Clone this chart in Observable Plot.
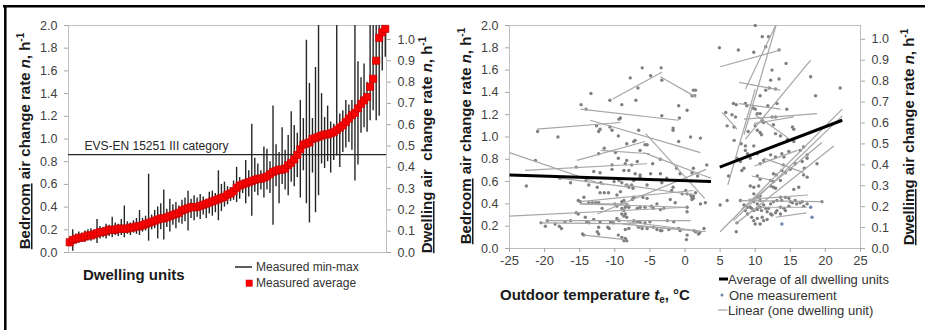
<!DOCTYPE html>
<html><head><meta charset="utf-8">
<script src="https://cdn.jsdelivr.net/npm/d3@7"></script>
<script src="https://cdn.jsdelivr.net/npm/@observablehq/plot@0.6"></script>
<style>
body{margin:0;background:#fff;}
#wrap{position:relative;width:925px;height:330px;overflow:hidden;background:#fff;font-family:"Liberation Sans",Arial,sans-serif;}
#left,#right,#over{position:absolute;top:0;}
#left{left:0;width:460px;height:262px}
#right{left:460px;width:465px;height:275px}
#over{left:0;pointer-events:none}
</style></head><body>
<div id="wrap"><div id="left"></div><div id="right"></div><svg id="over" width="925" height="330"></svg></div>
<script>
// ---------- Left panel: dwelling units sorted by average ----------
const unitAvg = [0.09,0.11,0.12,0.13,0.13,0.14,0.15,0.15,0.16,0.17,
0.18,0.18,0.19,0.20,0.20,0.20,0.21,0.21,0.21,0.21,
0.22,0.22,0.23,0.23,0.24,0.25,0.26,0.27,0.28,0.29,
0.30,0.30,0.31,0.32,0.33,0.34,0.35,0.37,0.38,0.39,
0.40,0.40,0.40,0.41,0.42,0.43,0.44,0.45,0.46,0.47,
0.48,0.49,0.51,0.52,0.54,0.57,0.59,0.60,0.61,0.62,
0.63,0.64,0.65,0.65,0.66,0.67,0.69,0.71,0.72,0.73,
0.73,0.74,0.77,0.79,0.82,0.86,0.91,0.95,0.96,0.97,
1.00,1.01,1.02,1.03,1.04,1.04,1.05,1.06,1.08,1.10,
1.12,1.15,1.18,1.21,1.23,1.27,1.31,1.34,1.37,1.46,
1.53,1.69,1.89,1.94,1.97];
const unitMin = [0.05,0.01,0.08,0.09,0.10,0.09,0.11,0.10,0.12,0.08,
0.12,0.13,0.12,0.14,0.13,0.15,0.14,0.15,0.13,0.16,
0.15,0.17,0.16,0.15,0.18,0.19,0.10,0.20,0.21,0.12,
0.20,0.11,0.22,0.18,0.24,0.21,0.26,0.25,0.27,0.19,
0.30,0.28,0.31,0.29,0.33,0.30,0.34,0.32,0.35,0.28,
0.36,0.40,0.42,0.45,0.46,0.44,0.47,0.52,0.43,0.49,
0.32,0.53,0.50,0.55,0.48,0.55,0.52,0.24,0.58,0.43,
0.60,0.55,0.50,0.62,0.58,0.66,0.48,0.72,0.43,0.26,
0.70,0.35,0.50,0.78,0.74,0.80,0.70,0.81,0.85,0.75,
0.88,0.92,0.97,0.90,0.63,0.77,1.05,1.10,1.06,1.16,
1.25,1.16,1.20,1.60,1.72];
const unitMax = [0.13,0.20,0.16,0.18,0.17,0.19,0.20,0.21,0.19,0.29,
0.23,0.22,0.25,0.24,0.31,0.26,0.25,0.29,0.41,0.27,
0.26,0.28,0.30,0.37,0.30,0.32,0.69,0.33,0.37,0.40,
0.43,0.55,0.38,0.47,0.42,0.44,0.41,0.46,0.48,0.54,
0.47,0.50,0.48,0.51,0.49,0.46,0.53,0.54,0.52,0.72,
0.60,0.62,0.58,0.57,0.63,0.75,0.66,0.63,0.81,0.72,
1.13,0.83,0.78,0.72,0.93,0.91,0.80,1.29,0.95,0.88,
1.10,0.90,1.03,1.24,1.12,1.05,1.34,1.18,1.87,1.49,
1.18,1.63,2.30,1.40,1.19,1.29,1.15,1.13,2.30,1.22,
1.25,1.34,1.30,1.34,2.30,1.68,1.54,1.66,1.50,2.30,
2.30,2.30,2.30,2.30,2.30];
const categoryLimit = [0.863];
const categoryLabel = "EVS-EN 15251 III category";

// axis ticks
const leftTicks = [0,0.2,0.4,0.6,0.8,1.0,1.2,1.4,1.6,1.8,2.0];
const rightTicks = [0,0.1,0.2,0.3,0.4,0.5,0.6,0.7,0.8,0.9,1.0];
const tempTicks = [-25,-20,-15,-10,-5,0,5,10,15,20,25];
const SEC = 2 / 1.066; // bedroom-axis units per dwelling-axis unit

// ---------- Right panel: rate vs outdoor temperature ----------
const heatingPoints = [
[-6.1,1.62],[-3.4,1.62],[-4.9,1.55],[-7.8,1.53],[-3.3,1.51],[-6.7,1.44],[-13.4,1.39],[1.2,1.42],[1.5,1.42],[1.0,1.37],[1.4,1.37],[-7.0,1.33],[-10.7,1.33],[-14.8,1.29],[-9.0,1.29],[-0.9,1.28],[-14.1,1.25],[0.3,1.24],[-3.3,1.19],[-9.2,1.17],[-9.4,1.16],[-0.8,1.17],[-12.6,1.10],[-12.1,1.07],[-12.3,1.05],[-10.7,1.09],[-10.4,1.06],[-1.7,1.08],[-1.7,1.06],[-21.0,1.05],[-18.1,1.00],[-9.5,1.01],[-6.6,1.06],[0.8,1.00],[2.2,0.99],[-0.9,0.96],[-7.3,0.96],[-7.1,0.97],[-8.3,0.94],[-5.7,0.93],[-5.4,0.93],[-11.5,0.90],[-12.3,0.85],[-9.9,0.86],[-6.4,0.88],[-9.5,0.81],[-8.3,0.79],[-8.5,0.76],[-7.6,0.75],[-10.4,0.75],[-6.8,0.78],[-4.6,0.76],[-3.5,0.80],[-1.2,0.72],[1.2,0.72],[3.1,0.75],[-15.5,0.73],[-13.0,0.69],[-12.1,0.68],[-10.4,0.71],[-8.7,0.70],[-8.0,0.70],[-7.1,0.67],[-6.4,0.66],[-4.9,0.67],[-3.5,0.67],[-0.7,0.67],[1.0,0.68],[1.8,0.65],[-21.3,0.79],[-22.6,0.56],[-16.3,0.59],[-17.8,0.63],[-14.1,0.61],[-13.7,0.57],[-12.5,0.55],[-12.0,0.59],[-10.1,0.60],[-9.4,0.61],[-9.0,0.59],[-8.3,0.57],[-8.0,0.55],[-7.6,0.57],[-7.4,0.54],[-7.3,0.61],[-6.4,0.64],[-5.4,0.57],[-3.3,0.59],[-2.6,0.63],[-1.9,0.52],[-1.7,0.55],[-0.4,0.49],[0.1,0.52],[0.3,0.49],[0.8,0.48],[1.0,0.46],[1.2,0.47],[1.5,0.50],[2.9,0.41],[3.4,0.60],[-15.2,0.43],[-14.9,0.42],[-14.4,0.46],[-13.7,0.41],[-13.2,0.41],[-12.7,0.41],[-12.3,0.41],[-11.8,0.36],[-12.1,0.50],[-11.5,0.50],[-10.9,0.50],[-9.7,0.48],[-9.2,0.51],[-10.0,0.40],[-9.7,0.38],[-9.0,0.42],[-8.7,0.43],[-8.5,0.37],[-8.3,0.39],[-8.0,0.37],[-9.0,0.36],[-8.7,0.34],[-8.5,0.31],[-9.0,0.31],[-8.7,0.29],[-8.3,0.28],[-9.7,0.27],[-9.4,0.25],[-10.6,0.24],[-10.2,0.23],[-11.0,0.19],[-10.8,0.18],[-12.1,0.24],[-12.3,0.19],[-13.0,0.26],[-14.0,0.24],[-13.7,0.23],[-14.2,0.28],[-14.6,0.13],[-14.4,0.12],[-6.8,0.36],[-6.4,0.37],[-5.7,0.37],[-4.8,0.38],[-4.5,0.36],[-7.5,0.44],[-7.3,0.46],[-6.0,0.46],[-5.4,0.45],[-7.3,0.25],[-6.8,0.24],[-6.4,0.24],[-5.7,0.23],[-5.0,0.24],[-6.6,0.19],[-6.1,0.18],[-5.4,0.18],[-4.5,0.19],[-4.0,0.17],[-3.5,0.16],[-3.3,0.16],[-2.3,0.17],[-8.0,0.18],[-8.5,0.17],[-9.5,0.12],[-9.0,0.10],[-8.5,0.09],[-8.3,0.07],[-8.7,0.07],[-17.6,0.18],[-17.9,0.20],[-19.9,0.20],[-19.6,0.25],[-20.5,0.23],[-17.1,0.24],[-18.5,0.22],[-16.3,0.25],[-12.3,0.13],[-12.5,0.15],[-0.9,0.18],[-0.7,0.16],[0.3,0.12],[1.3,0.16],[1.5,0.15],[1.9,0.13],[2.1,0.14],[2.7,0.18],[0.3,0.33],[0.3,0.37],[1.0,0.44],[1.2,0.45],[2.2,0.40],[-3.5,0.35],[-3.0,0.36],[-2.1,0.44],[-1.4,0.41],[-4.0,0.40],[-1.6,0.24],[-2.5,0.25],[0.2,0.08],[-15.5,0.32],[-15.2,0.31]
];
const coolingPoints = [
[4.9,1.80],[7.6,1.78],[9.8,1.76],[10.0,2.00],[11.0,1.90],[11.9,1.90],[11.5,1.81],[13.4,1.78],[14.4,1.66],[12.4,1.60],[17.9,1.54],[12.2,1.51],[13.4,1.52],[11.5,1.42],[12.9,1.43],[22.1,1.44],[18.6,1.37],[10.7,1.37],[6.9,1.30],[7.3,1.29],[8.6,1.30],[8.8,1.28],[9.7,1.26],[10.0,1.25],[5.8,1.22],[6.7,1.20],[10.3,1.21],[10.7,1.21],[12.4,1.18],[12.9,1.18],[14.5,1.25],[6.0,1.10],[7.0,1.09],[7.2,1.18],[11.0,1.15],[11.2,1.13],[10.0,1.10],[10.3,1.06],[12.6,1.11],[15.3,1.09],[15.5,1.07],[12.9,1.03],[13.6,1.01],[10.7,1.04],[10.9,1.02],[7.0,0.97],[8.0,0.94],[8.6,0.92],[9.8,0.92],[16.9,0.91],[15.5,0.96],[8.6,0.88],[8.9,0.85],[10.3,0.85],[7.4,0.81],[7.9,0.78],[9.3,0.81],[10.7,0.76],[11.2,0.79],[12.2,0.84],[12.9,0.82],[13.8,0.85],[14.1,0.82],[14.8,0.87],[16.4,0.88],[17.4,0.84],[17.4,0.81],[15.7,0.76],[16.7,0.78],[18.8,0.76],[13.8,0.70],[14.3,0.68],[15.0,0.71],[12.6,0.67],[13.0,0.66],[13.6,0.61],[16.9,0.66],[17.4,0.64],[8.4,0.72],[8.1,0.70],[6.2,0.65],[12.2,0.61],[12.6,0.60],[10.3,0.65],[10.7,0.62],[9.3,0.56],[9.8,0.55],[10.5,0.56],[12.2,0.56],[12.6,0.55],[12.9,0.54],[5.0,0.39],[6.0,0.43],[7.9,0.43],[8.4,0.39],[8.9,0.37],[9.8,0.49],[10.3,0.46],[10.7,0.47],[9.8,0.42],[10.3,0.40],[10.7,0.43],[11.2,0.39],[9.3,0.37],[9.5,0.36],[9.8,0.34],[10.3,0.35],[8.6,0.34],[8.9,0.31],[10.7,0.37],[10.9,0.34],[11.5,0.36],[11.7,0.33],[11.9,0.36],[12.2,0.40],[12.6,0.42],[13.1,0.43],[13.6,0.46],[13.8,0.43],[14.3,0.46],[14.8,0.45],[15.0,0.42],[15.3,0.41],[15.7,0.43],[15.9,0.40],[16.4,0.41],[16.7,0.42],[16.9,0.38],[17.4,0.40],[13.6,0.37],[14.1,0.36],[14.3,0.34],[14.8,0.38],[12.2,0.31],[12.4,0.30],[12.9,0.32],[13.1,0.34],[13.6,0.31],[9.5,0.28],[9.8,0.25],[10.3,0.27],[11.0,0.28],[11.2,0.25],[11.7,0.26],[10.0,0.22],[10.7,0.22],[7.4,0.23],[7.3,0.15],[19.5,0.42],[15.5,0.53],[16.2,0.55],[14.0,0.75],[17.0,0.72],[11.8,1.28],[12.0,1.44],[13.1,1.30],[9.0,1.05],[14.6,0.98]
];
const bluePoints = [[13.8,0.22],[17.9,0.37],[18.1,0.28]];
// linear fit per dwelling unit: [t1, n1, t2, n2]
const unitLines = [
[-10.3,1.34,-3.3,1.58],[-3.5,1.54,1.5,1.36],[-21.1,1.07,-9.2,1.13],[-14.9,1.25,-0.9,1.15],
[-13.5,1.15,2.2,0.86],[-15.4,0.79,-5.7,0.96],[-22.8,0.70,-5.4,0.76],[-25,0.86,-11.5,0.57],
[-25,0.29,0.3,0.37],[-19.9,0.25,0.8,0.25],[-20.5,0.23,-7,0.22],[-9,0.22,2.5,0.15],
[-14.4,0.12,-8.5,0.08],[-8.3,0.24,3.0,0.15],[-14.9,0.42,1.2,0.52],[-12.5,0.31,3.0,0.71],
[-5.6,1.03,2.8,0.45],[-5.9,0.86,3.7,0.63],[-12,0.88,-5,0.85],[-15,0.40,-8,0.40],
[-18.9,0.64,-8.0,0.55],[-8.7,0.57,1.3,0.48],[-14.9,0.40,0,0.37],[-7,0.20,0,0.17],
[5.0,1.63,13.6,1.78],[7.7,1.49,13.6,1.42],[8.6,1.43,12.9,2.0],[6.1,0.57,10.0,1.43],
[8.4,1.02,13.2,2.05],[8.6,0.98,17.9,1.69],[8.4,1.16,18.8,1.21],[9.8,1.12,15.5,1.18],
[7.7,1.30,13.6,1.25],[5.3,1.22,7.4,1.07],[5.0,0.15,22.4,1.25],[6.9,0.25,22.4,1.19],
[7.2,0.22,21.2,0.92],[8,0.35,19.5,0.95],[9.9,0.74,16.0,0.88],[7.9,0.43,19.5,0.42],
[9,0.44,17.5,0.48],[10.1,0.37,17.4,0.37],[12.9,0.28,17.3,0.32],[11.2,0.81,16.9,0.68],
[9.5,0.65,12.5,0.61],[10,1.2,14.5,1.0]
];
const averageLines = [[-25,0.66,3.7,0.60],[4.95,0.73,22.4,1.15]];

const units = unitAvg.map((a,i)=>({i, avg:a, lo:unitMin[i], hi:unitMax[i]}));

const FONT = '"Liberation Sans", Arial, sans-serif';
const TICKCOL = "#404040", AXCOL = "#a6a6a6", FRAMECOL = "#bfbfbf";
const fmt1 = d => d.toFixed(1);

const left = Plot.plot({
  width: 460, height: 262,
  marginLeft: 68, marginRight: 74, marginTop: 25, marginBottom: 10,
  style: {fontFamily: FONT, fontSize: "12.5px", background: "transparent", overflow: "visible"},
  x: {domain: [-0.4, 104.4], axis: null},
  y: {domain: [0, 2]},
  marks: [
    Plot.frame({stroke: FRAMECOL}),
    Plot.axisY({ticks: leftTicks, tickFormat: fmt1, tickSize: 4, tickPadding: 7, stroke: AXCOL, fill: TICKCOL, label: null}),
    Plot.axisY({anchor: "right", ticks: rightTicks.map(v => v*SEC), tickFormat: d => fmt1(d/SEC), tickSize: 4, tickPadding: 7, stroke: AXCOL, fill: TICKCOL, label: null}),
    Plot.ruleX(units, {x: "i", y1: "lo", y2: "hi", stroke: "#262626", strokeWidth: 1.4, clip: true}),
    Plot.ruleY(categoryLimit, {stroke: "#262626", strokeWidth: 1.3}),
    Plot.text(categoryLimit, {y: d => d, frameAnchor: "left", dx: 16, dy: -8, text: () => categoryLabel, textAnchor: "start", fontSize: 12, fill: "#262626"}),
    Plot.dot(units, {x: "i", y: "avg", symbol: "square", r: 4.1, fill: "#ff0000", stroke: "#b00000", strokeWidth: 0.6})
  ]
});
document.getElementById("left").appendChild(left);

const right = Plot.plot({
  width: 465, height: 275,
  marginLeft: 49, marginRight: 65, marginTop: 25, marginBottom: 27,
  style: {fontFamily: FONT, fontSize: "12.5px", background: "transparent", overflow: "visible"},
  x: {domain: [-25, 25]},
  y: {domain: [0, 2]},
  marks: [
    Plot.frame({stroke: FRAMECOL}),
    Plot.axisX({ticks: tempTicks, tickFormat: d => String(d), tickSize: 4, tickPadding: 3, stroke: AXCOL, fill: TICKCOL, label: null, fontSize: 13}),
    Plot.axisY({ticks: leftTicks, tickFormat: fmt1, tickSize: 4, tickPadding: 7, stroke: AXCOL, fill: TICKCOL, label: null}),
    Plot.axisY({anchor: "right", ticks: rightTicks.map(v => v*SEC), tickFormat: d => fmt1(d/SEC), tickSize: 4, tickPadding: 7, stroke: AXCOL, fill: TICKCOL, label: null}),
    Plot.dot(heatingPoints.concat(coolingPoints), {x: d => d[0], y: d => d[1], r: 1.7, fill: "#7f7f7f", stroke: "none"}),
    Plot.dot(bluePoints, {x: d => d[0], y: d => d[1], r: 1.7, fill: "#6f85ad", stroke: "none"}),
    Plot.link(unitLines, {x1: d => d[0], y1: d => d[1], x2: d => d[2], y2: d => d[3], stroke: "#a6a6a6", strokeWidth: 1.2, clip: true}),
    Plot.link(averageLines, {x1: d => d[0], y1: d => d[1], x2: d => d[2], y2: d => d[3], stroke: "#000", strokeWidth: 3, clip: true})
  ]
});
document.getElementById("right").appendChild(right);

// ---------- titles, legends, frame ----------
const T = "#1a1a1a";
function yTitle(x, y, first, rest){
  return `<text transform="translate(${x},${y}) rotate(-90)" text-anchor="middle" font-weight="bold" font-size="15" fill="${T}" style="white-space:pre"><tspan text-decoration="underline">${first}</tspan>${rest}<tspan font-style="italic">n</tspan>, h<tspan dy="-6" font-size="10">-1</tspan></text>`;
}
document.getElementById("over").innerHTML = `
<line x1="3" y1="6.2" x2="925" y2="6.2" stroke="#000" stroke-width="2.5"/>
<line x1="5.3" y1="5" x2="5.3" y2="330" stroke="#000" stroke-width="2.5"/>
<g font-family='${FONT}'>
${yTitle(30, 141, "Bedroom", " air change rate ")}
${yTitle(432, 145, "Dwelling", " air  change rate ")}
${yTitle(471, 136, "Bedroom", " air change rate ")}
${yTitle(914, 137, "Dwellimg", " air change rate ")}
<text x="83" y="280" font-weight="bold" font-size="15" fill="${T}">Dwelling units</text>
<line x1="235" y1="267" x2="252" y2="267" stroke="#262626" stroke-width="1.5"/>
<text x="256" y="271.3" font-size="12" fill="#333">Measured min-max</text>
<rect x="246" y="280" width="6.3" height="6.3" fill="#ff0000" stroke="#c00000" stroke-width="0.5"/>
<text x="256" y="287.3" font-size="12" fill="#333">Measured average</text>
<text x="500" y="300" font-weight="bold" font-size="15" fill="${T}">Outdoor temperature <tspan font-style="italic">t</tspan><tspan font-size="10" dy="3">e</tspan><tspan dy="-3">, °C</tspan></text>
<line x1="719" y1="279" x2="728" y2="279" stroke="#000" stroke-width="3"/>
<text x="728" y="283.5" font-size="13" fill="#333">Average of all dwelling units</text>
<circle cx="722" cy="295" r="1.5" fill="#6f85ad"/>
<text x="729" y="299.5" font-size="13" fill="#333">One measurement</text>
<line x1="718" y1="310" x2="727.5" y2="310" stroke="#a6a6a6" stroke-width="1.2"/>
<text x="728" y="314.5" font-size="13" fill="#333">Linear (one dwelling unit)</text>
</g>`;
</script>
</body></html>
